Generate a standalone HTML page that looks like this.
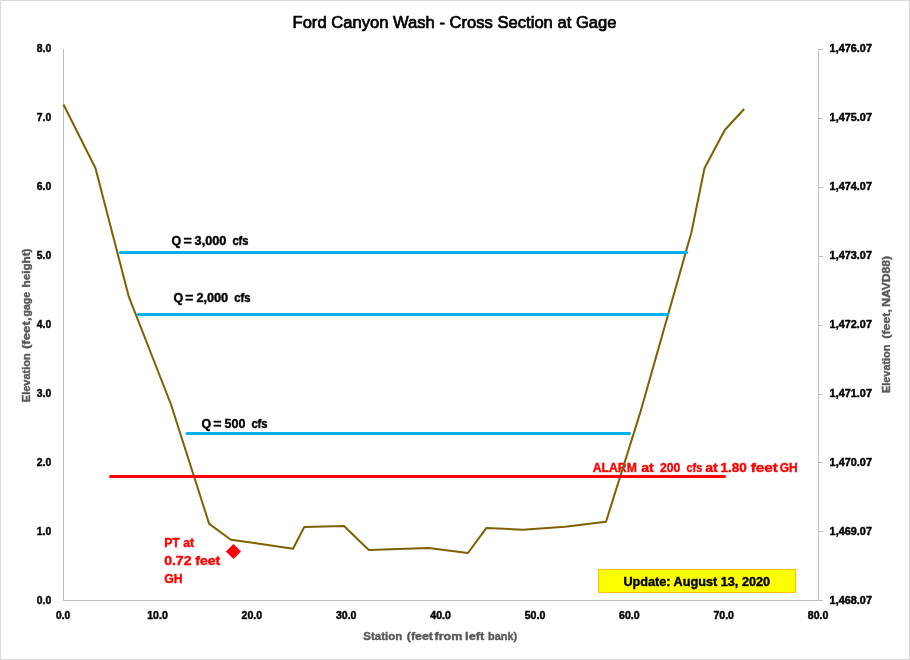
<!DOCTYPE html>
<html>
<head>
<meta charset="utf-8">
<title>Ford Canyon Wash - Cross Section at Gage</title>
<style>
  html, body { margin: 0; padding: 0; background: #ffffff; }
  body { width: 910px; height: 660px; overflow: hidden; font-family: "Liberation Sans", sans-serif; }
  svg { display: block; will-change: transform; }
  text { font-family: "Liberation Sans", sans-serif; white-space: pre; }
  .tick { font-size: 11px; font-weight: bold; fill: #000000; stroke: #000000; stroke-width: 0.45px; }
  .axt { font-size: 11px; font-weight: bold; fill: #595959; stroke: #595959; stroke-width: 0.4px; }
  .ql { font-size: 12px; font-weight: bold; fill: #000000; stroke: #000000; stroke-width: 0.4px; }
  .red { font-size: 13px; font-weight: bold; fill: #ff0000; stroke: #ff0000; stroke-width: 0.4px; }
</style>
</head>
<body>
<svg width="910" height="660" viewBox="0 0 910 660">
  <!-- chart area -->
  <rect x="0.5" y="0.5" width="909" height="659" fill="#ffffff" stroke="#d9d9d9" stroke-width="1"/>

  <!-- title -->
  <text x="292.5" y="28" font-size="16.8" fill="#000000" stroke="#000000" stroke-width="0.7" textLength="324" lengthAdjust="spacingAndGlyphs">Ford Canyon Wash - Cross Section at Gage</text>

  <!-- axes -->
  <g stroke="#bfbfbf" stroke-width="1" fill="none" shape-rendering="crispEdges">
    <line x1="63.5" y1="49" x2="63.5" y2="601"/>
    <line x1="63" y1="600.5" x2="819" y2="600.5"/>
    <line x1="818.5" y1="49" x2="818.5" y2="601"/>
    <!-- right ticks -->
    <line x1="818" y1="49.5" x2="823" y2="49.5"/>
    <line x1="818" y1="118.5" x2="823" y2="118.5"/>
    <line x1="818" y1="187.5" x2="823" y2="187.5"/>
    <line x1="818" y1="256.5" x2="823" y2="256.5"/>
    <line x1="818" y1="325.5" x2="823" y2="325.5"/>
    <line x1="818" y1="394.5" x2="823" y2="394.5"/>
    <line x1="818" y1="462.5" x2="823" y2="462.5"/>
    <line x1="818" y1="531.5" x2="823" y2="531.5"/>
    <line x1="818" y1="600.5" x2="823" y2="600.5"/>
  </g>

  <!-- left tick labels -->
  <g class="tick">
    <text x="36.8" y="52" textLength="14.4" lengthAdjust="spacingAndGlyphs">8.0</text>
    <text x="36.8" y="121" textLength="14.4" lengthAdjust="spacingAndGlyphs">7.0</text>
    <text x="36.8" y="190" textLength="14.4" lengthAdjust="spacingAndGlyphs">6.0</text>
    <text x="36.8" y="259" textLength="14.4" lengthAdjust="spacingAndGlyphs">5.0</text>
    <text x="36.8" y="328" textLength="14.4" lengthAdjust="spacingAndGlyphs">4.0</text>
    <text x="36.8" y="397" textLength="14.4" lengthAdjust="spacingAndGlyphs">3.0</text>
    <text x="36.8" y="466" textLength="14.4" lengthAdjust="spacingAndGlyphs">2.0</text>
    <text x="36.8" y="535" textLength="14.4" lengthAdjust="spacingAndGlyphs">1.0</text>
    <text x="36.8" y="604" textLength="14.4" lengthAdjust="spacingAndGlyphs">0.0</text>
  </g>

  <!-- right tick labels -->
  <g class="tick">
    <text x="829.6" y="52" textLength="42.4" lengthAdjust="spacingAndGlyphs">1,476.07</text>
    <text x="829.6" y="121" textLength="42.4" lengthAdjust="spacingAndGlyphs">1,475.07</text>
    <text x="829.6" y="190" textLength="42.4" lengthAdjust="spacingAndGlyphs">1,474.07</text>
    <text x="829.6" y="259" textLength="42.4" lengthAdjust="spacingAndGlyphs">1,473.07</text>
    <text x="829.6" y="328" textLength="42.4" lengthAdjust="spacingAndGlyphs">1,472.07</text>
    <text x="829.6" y="397" textLength="42.4" lengthAdjust="spacingAndGlyphs">1,471.07</text>
    <text x="829.6" y="466" textLength="42.4" lengthAdjust="spacingAndGlyphs">1,470.07</text>
    <text x="829.6" y="535" textLength="42.4" lengthAdjust="spacingAndGlyphs">1,469.07</text>
    <text x="829.6" y="604" textLength="42.4" lengthAdjust="spacingAndGlyphs">1,468.07</text>
  </g>

  <!-- x tick labels -->
  <g class="tick">
    <text x="56.0" y="619" textLength="14.2" lengthAdjust="spacingAndGlyphs">0.0</text>
    <text x="147.2" y="619" textLength="20.6" lengthAdjust="spacingAndGlyphs">10.0</text>
    <text x="241.5" y="619" textLength="20.6" lengthAdjust="spacingAndGlyphs">20.0</text>
    <text x="335.9" y="619" textLength="20.6" lengthAdjust="spacingAndGlyphs">30.0</text>
    <text x="430.3" y="619" textLength="20.6" lengthAdjust="spacingAndGlyphs">40.0</text>
    <text x="524.7" y="619" textLength="20.6" lengthAdjust="spacingAndGlyphs">50.0</text>
    <text x="619.1" y="619" textLength="20.6" lengthAdjust="spacingAndGlyphs">60.0</text>
    <text x="713.4" y="619" textLength="20.6" lengthAdjust="spacingAndGlyphs">70.0</text>
    <text x="807.8" y="619" textLength="20.6" lengthAdjust="spacingAndGlyphs">80.0</text>
  </g>

  <!-- axis titles -->
  <text class="axt" y="639.8"><tspan x="363.3" textLength="38.9" lengthAdjust="spacingAndGlyphs">Station</tspan><tspan x="406.8" textLength="26.2" lengthAdjust="spacingAndGlyphs">(feet</tspan><tspan x="434.5" textLength="27.9" lengthAdjust="spacingAndGlyphs">from</tspan><tspan x="465.1" textLength="19.3" lengthAdjust="spacingAndGlyphs">left</tspan><tspan x="488.1" textLength="29.0" lengthAdjust="spacingAndGlyphs">bank)</tspan></text>
  <text class="axt" y="0" transform="translate(29.8,0) rotate(-90)"><tspan x="-402.2" textLength="48.9" lengthAdjust="spacingAndGlyphs">Elevation</tspan><tspan x="-349.1" textLength="31.7" lengthAdjust="spacingAndGlyphs">(feet,</tspan><tspan x="-316.5" textLength="24.5" lengthAdjust="spacingAndGlyphs">gage</tspan><tspan x="-287.5" textLength="39.0" lengthAdjust="spacingAndGlyphs">height)</tspan></text>
  <text class="axt" y="0" transform="translate(890.2,0) rotate(-90)"><tspan x="-393.0" textLength="48.4" lengthAdjust="spacingAndGlyphs">Elevation</tspan><tspan x="-338.7" textLength="29.5" lengthAdjust="spacingAndGlyphs">(feet,</tspan><tspan x="-306.8" textLength="50.8" lengthAdjust="spacingAndGlyphs">NAVD88)</tspan></text>

  <!-- alarm label (sits beneath the cross-section line) -->
  <text class="red" y="472"><tspan x="592.8" textLength="44.0" lengthAdjust="spacingAndGlyphs">ALARM</tspan><tspan x="641.2" textLength="12.6" lengthAdjust="spacingAndGlyphs">at</tspan><tspan x="660.0" textLength="20.3" lengthAdjust="spacingAndGlyphs">200</tspan><tspan x="686.6" textLength="15.5" lengthAdjust="spacingAndGlyphs">cfs</tspan><tspan x="705.2" textLength="12.6" lengthAdjust="spacingAndGlyphs">at</tspan><tspan x="720.5" textLength="26.4" lengthAdjust="spacingAndGlyphs">1.80</tspan><tspan x="750.7" textLength="27.1" lengthAdjust="spacingAndGlyphs">feet</tspan><tspan x="779.7" textLength="17.9" lengthAdjust="spacingAndGlyphs">GH</tspan></text>

  <!-- cross section -->
  <polyline fill="none" stroke="#7f6000" stroke-width="2" stroke-linejoin="round" stroke-linecap="butt"
    points="63.5,104.5 95.5,168.2 128.8,296.7 171,404.5 209.2,523.9 230.9,539.7 261,544 293,548.7 304.3,527 344,526 368.8,550 428.5,547.9 468,553 486.4,527.9 522.7,529.7 565,526.7 606,521.8 640.3,412.4 691.4,232.5 704.5,168.2 724.8,130 744.2,109"/>

  <!-- discharge lines -->
  <g stroke="#00b0f0" stroke-width="3" stroke-linecap="round">
    <line x1="120.3" y1="252.5" x2="686.7" y2="252.5"/>
    <line x1="138.3" y1="314.5" x2="667.7" y2="314.5"/>
    <line x1="187" y1="433.5" x2="629.5" y2="433.5"/>
  </g>
  <line x1="110.5" y1="476.5" x2="724.5" y2="476.5" stroke="#ff0000" stroke-width="3" stroke-linecap="round"/>

  <!-- labels -->
  <text class="ql" y="245"><tspan x="171.6" textLength="9.7" lengthAdjust="spacingAndGlyphs">Q</tspan><tspan x="183.4" textLength="8.3" lengthAdjust="spacingAndGlyphs">=</tspan><tspan x="194.6" textLength="31.8" lengthAdjust="spacingAndGlyphs">3,000</tspan><tspan x="232.4" textLength="16.1" lengthAdjust="spacingAndGlyphs">cfs</tspan></text>
  <text class="ql" y="302"><tspan x="173.4" textLength="9.7" lengthAdjust="spacingAndGlyphs">Q</tspan><tspan x="185.3" textLength="8.1" lengthAdjust="spacingAndGlyphs">=</tspan><tspan x="196.4" textLength="31.8" lengthAdjust="spacingAndGlyphs">2,000</tspan><tspan x="234.2" textLength="16.4" lengthAdjust="spacingAndGlyphs">cfs</tspan></text>
  <text class="ql" y="427.5"><tspan x="201.4" textLength="9.7" lengthAdjust="spacingAndGlyphs">Q</tspan><tspan x="213.3" textLength="8.3" lengthAdjust="spacingAndGlyphs">=</tspan><tspan x="224.6" textLength="20.7" lengthAdjust="spacingAndGlyphs">500</tspan><tspan x="251.4" textLength="16.2" lengthAdjust="spacingAndGlyphs">cfs</tspan></text>


  <text class="red" x="164.2" y="546.7" textLength="29.8" lengthAdjust="spacingAndGlyphs">PT at</text>
  <text class="red" x="164.2" y="564.8" textLength="56" lengthAdjust="spacingAndGlyphs">0.72 feet</text>
  <text class="red" x="164.2" y="583" textLength="18.3" lengthAdjust="spacingAndGlyphs">GH</text>

  <!-- PT marker -->
  <path d="M233.5,543.9 L241.1,551.45 L233.5,559 L225.9,551.45 Z" fill="#ff0000"/>

  <!-- update box -->
  <rect x="598.5" y="569.5" width="197" height="23" fill="#ffff00" stroke="#ffc000" stroke-width="1"/>
  <text x="623.4" y="585.6" font-size="13" font-weight="bold" fill="#000000" stroke="#000000" stroke-width="0.4" textLength="146.7" lengthAdjust="spacingAndGlyphs">Update: August 13, 2020</text>
</svg>
</body>
</html>
